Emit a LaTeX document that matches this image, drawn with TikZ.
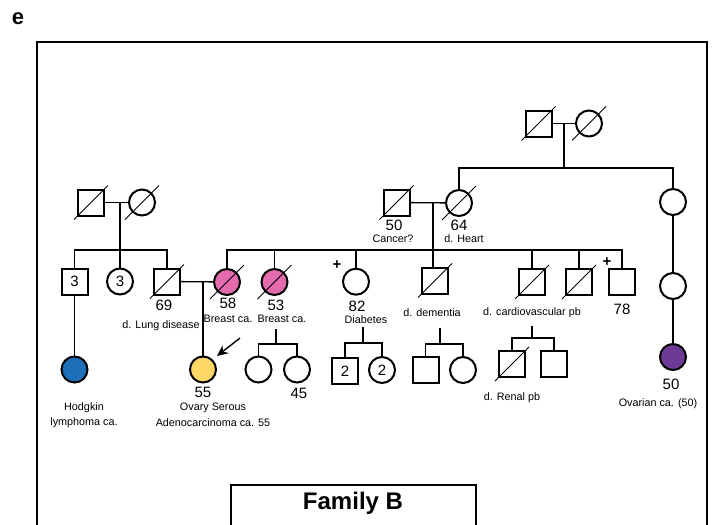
\documentclass[tikz,border=0pt]{standalone}
\usepackage{fontspec}
\setmainfont{Liberation Sans}
\usetikzlibrary{arrows.meta}
\definecolor{pinkf}{HTML}{E36BAE}
\definecolor{bluef}{HTML}{1D6FB8}
\definecolor{yellowf}{HTML}{FED766}
\definecolor{purplef}{HTML}{6D3A96}
\tikzset{
  male/.style={draw, line width=2pt, minimum size=26pt, inner sep=0pt, font=\fontsize{15}{15}\selectfont},
  female/.style={draw, circle, line width=2pt, minimum size=26pt, inner sep=0pt, font=\fontsize{15}{15}\selectfont},
  conn/.style={line width=1.3pt},
  slashline/.style={line width=1pt},
  num/.style={inner sep=0pt, font=\fontsize{15}{15}\selectfont},
  lbl/.style={inner sep=0pt, font=\fontsize{10.8}{12}\selectfont},
  plus/.style={inner sep=0pt, font=\bfseries\fontsize{15}{15}\selectfont},
}
\begin{document}
\begin{tikzpicture}[x=1pt,y=-1pt]
\useasboundingbox (0,0) rectangle (716,525);
% frame
\draw[line width=2.2pt] (37,545) -- (37,42) -- (707,42) -- (707,545);
\node[inner sep=0pt, font=\bfseries\fontsize{22}{22}\selectfont] (elab) at (18,19) {e};
% Family B box
\draw[line width=2pt] (231,545) -- (231,485) -- (476,485) -- (476,545);
\node[inner sep=0pt, font=\bfseries\fontsize{24}{24}\selectfont] (fam) at (353,503) {Family B};

% helper y-levels
\coordinate (y168) at (0,168);
\coordinate (y250) at (0,250);

% Generation I
\node[male] (g1m) at (91,202.5) {};
\node[female] (g1f) at (142,202.5) {};
\node[male] (g2m) at (538.5,123.5) {};
\node[female] (g2f) at (589,123.5) {};

% Generation II
\node[male] (m50) at (396.5,202.5) {};
\node[female] (f64) at (459,203) {};
\node[female] (rA) at (673,202) {};

% Generation III
\node[male] (s3) at (74.5,281.5) {3};
\node[female] (c3) at (120,281.5) {3};
\node[male] (m69) at (167,281.5) {};
\node[female, fill=pinkf] (f58) at (227,282) {};
\node[female, fill=pinkf] (f53) at (274.5,282) {};
\node[female] (f82) at (356,281.7) {};
\node[male] (mdem) at (435,280.5) {};
\node[male] (mcv1) at (532,282) {};
\node[male] (mcv2) at (579,282) {};
\node[male] (m78) at (622,282) {};
\node[female] (rB) at (673,286) {};

% Generation IV
\node[female, fill=bluef] (blue) at (74.5,369.5) {};
\node[female, fill=yellowf] (prob) at (203,369.5) {};
\node[female] (c53a) at (258.5,369.5) {};
\node[female] (c53b) at (297,369.5) {};
\node[male] (sq2) at (345,371) {2};
\node[female] (ci2) at (382,370) {2};
\node[male] (dm1) at (425.5,370) {};
\node[female] (dm2) at (463,370) {};
\node[male] (rn1) at (512,364) {};
\node[male] (rn2) at (554,364) {};
\node[female, fill=purplef] (purp) at (673,357) {};

% slashes for deceased
\foreach \n in {g1m,g1f,g2m,g2f,m50,f64,m69,f58,f53,mdem,mcv1,mcv2,rn1}
  \draw[slashline] ([shift={(-17,17)}]\n.center) -- ([shift={(17,-17)}]\n.center);

% couples and sibships
\coordinate (d1) at (120,202.5);
\draw[conn] (g1m) -- (g1f);
\draw[conn] (d1) -- (c3.north);
\draw[conn] (s3.north) -- (s3.north |- y250) -- (m69.north |- y250) -- (m69.north);

\coordinate (d2) at (564,123.5);
\draw[conn] (g2m) -- (g2f);
\draw[conn] (d2) -- (d2 |- y168);
\draw[conn] (f64.north) -- (f64.north |- y168) -- (rA.north |- y168) -- (rA.north);
\draw[conn] (rA.south) -- (rB.north);
\draw[conn] (rB.south) -- (purp.north);

\coordinate (d3) at (433,202.5);
\draw[conn] (m50) -- (f64);
\draw[conn] (d3) -- (d3 |- mdem.north);
\draw[conn] (f58.north) -- (f58.north |- y250) -- (m78.north |- y250) -- (m78.north);
\foreach \n in {f53,f82,mcv1,mcv2}
  \draw[conn] (\n.north) -- (\n.north |- y250);

\coordinate (d4) at (203,281.7);
\draw[conn] (m69) -- (f58);
\draw[conn] (d4) -- (prob.north);
\draw[conn] (s3.south) -- (blue.north);

% children lines
\coordinate (k1) at (276,329);
\coordinate (h1) at (0,344);
\draw[conn] (k1) -- (k1 |- h1);
\draw[conn] (c53a.north) -- (c53a.north |- h1) -- (c53b.north |- h1) -- (c53b.north);

\coordinate (k2) at (363,327);
\coordinate (h2) at (0,343);
\draw[conn] (k2) -- (k2 |- h2);
\draw[conn] (sq2.north) -- (sq2.north |- h2) -- (ci2.north |- h2) -- (ci2.north);

\coordinate (k3) at (440,328);
\coordinate (h3) at (0,344);
\draw[conn] (k3) -- (k3 |- h3);
\draw[conn] (dm1.north) -- (dm1.north |- h3) -- (dm2.north |- h3) -- (dm2.north);

\coordinate (k4) at (532,326);
\coordinate (h4) at (0,338);
\draw[conn] (k4) -- (k4 |- h4);
\draw[conn] (rn1.north) -- (rn1.north |- h4) -- (rn2.north |- h4) -- (rn2.north);

% proband arrow
\coordinate (pa) at (240,338);
\draw[line width=1.4pt, -{Stealth[length=11pt,width=10pt]}] (pa) -- (217,356);

% labels
\node[num] (t50) at (394,225.5) {50};
\node[lbl] (tcan) at (393,239) {Cancer?};
\node[num] (t64) at (459,225.5) {64};
\node[lbl] (theart) at (464,239) {d. Heart};
\node[num] (t69) at (164,305.5) {69};
\node[num] (t58) at (228,303) {58};
\node[num] (t53) at (276,305.5) {53};
\node[lbl] (tbc1) at (228,319) {Breast ca.};
\node[lbl] (tbc2) at (282,319) {Breast ca.};
\node[lbl] (tlung) at (161,326) {d. Lung disease};
\node[num] (t82) at (357,306) {82};
\node[lbl] (tdiab) at (366,320) {Diabetes};
\node[plus] (p1) at (337,265) {+};
\node[lbl] (tdem) at (432,313) {d. dementia};
\node[lbl] (tcv) at (532,313) {d. cardiovascular pb};
\node[plus] (p2) at (607,262) {+};
\node[num] (t78) at (622,309) {78};
\node[num] (t55) at (203,392) {55};
\node[lbl] (tov1) at (213,408) {Ovary Serous};
\node[lbl] (tov2) at (213,423) {Adenocarcinoma ca. 55};
\node[lbl] (thod1) at (84,408) {Hodgkin};
\node[lbl] (thod2) at (84,423) {lymphoma ca.};
\node[num] (t45) at (299,393) {45};
\node[lbl] (tren) at (512,398) {d. Renal pb};
\node[num] (t50b) at (671,384) {50};
\node[lbl] (tovc) at (658,404) {Ovarian ca. (50)};
\end{tikzpicture}
\end{document}
